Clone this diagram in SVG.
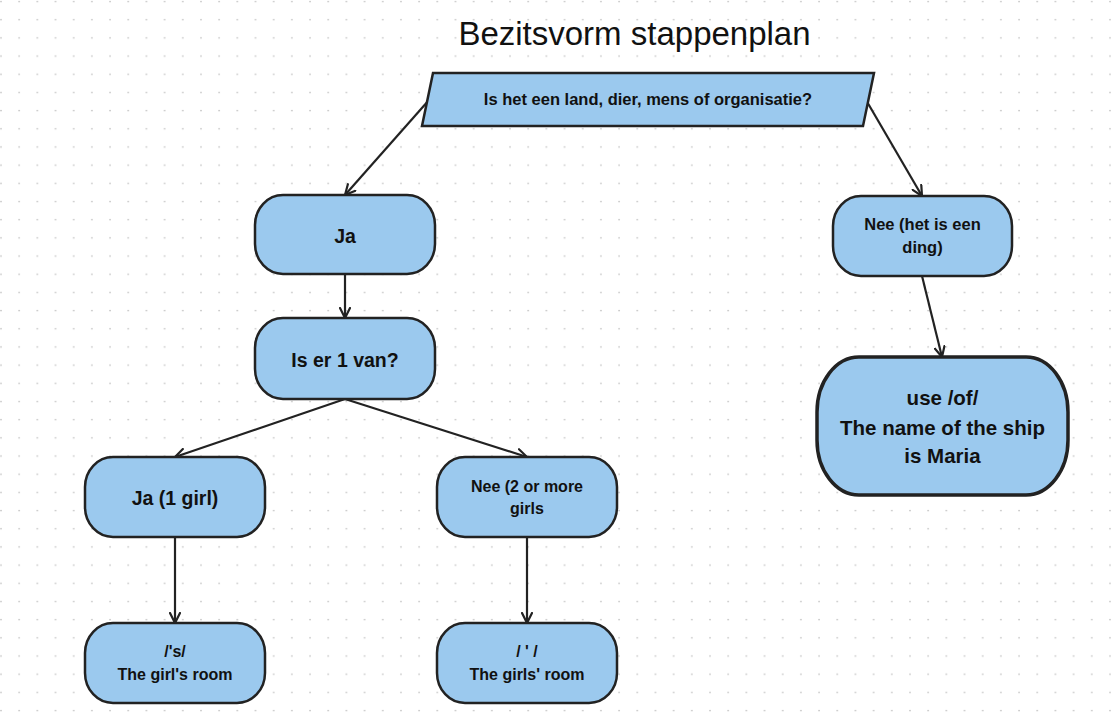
<svg xmlns="http://www.w3.org/2000/svg" width="1118" height="721" viewBox="0 0 1118 721">
<style>
.node{fill:#9BC9EE;stroke:#222;stroke-width:2.5}
.big{stroke-width:3.5}
.t{font-family:"Liberation Sans",Arial,sans-serif;font-weight:bold;fill:#111;text-anchor:middle}
.conn{stroke:#222;stroke-width:2.2;fill:none;marker-end:url(#arr)}
</style>
<defs>
<pattern id="dots" width="18.18" height="18.18" patternUnits="userSpaceOnUse">
<circle cx="1" cy="1.5" r="0.9" fill="#c6c6c6"/>
</pattern>
<marker id="arr" viewBox="0 0 12 12" refX="11" refY="6" markerWidth="12" markerHeight="12" markerUnits="userSpaceOnUse" orient="auto">
<path d="M1,1 L11,6 L1,11" fill="none" stroke="#222" stroke-width="2.2" stroke-linecap="round" stroke-linejoin="round"/>
</marker>
</defs>
<rect width="1118" height="721" fill="#fff"/>
<rect width="1118" height="721" fill="url(#dots)"/>
<text x="634.5" y="45" font-family="'Liberation Sans',Arial,sans-serif" font-size="33" fill="#111" text-anchor="middle">Bezitsvorm stappenplan</text>
<g id="connectors">
<line class="conn" x1="429" y1="100" x2="345" y2="195"/>
<line class="conn" x1="866" y1="100" x2="922" y2="196"/>
<line class="conn" x1="345" y1="274" x2="345" y2="318"/>
<line class="conn" x1="922" y1="276" x2="942" y2="357"/>
<line class="conn" x1="345" y1="399" x2="175" y2="457"/>
<line class="conn" x1="345" y1="399" x2="527" y2="457"/>
<line class="conn" x1="175" y1="537" x2="175" y2="623"/>
<line class="conn" x1="527" y1="537" x2="527" y2="623"/>
</g>
<g id="question">
<polygon class="node" points="433,73 874,73 863,126 422,126"/>
<text class="t" x="648" y="105" font-size="16.5">Is het een land, dier, mens of organisatie?</text>
</g>
<g id="ja">
<rect class="node" x="255" y="195" width="180" height="79" rx="28" ry="30"/>
<text class="t" x="345" y="242.5" font-size="19.5">Ja</text>
</g>
<g id="iser1van">
<rect class="node" x="255" y="318" width="180" height="81" rx="28" ry="30"/>
<text class="t" x="345" y="366.5" font-size="19.5">Is er 1 van?</text>
</g>
<g id="nee-ding">
<rect class="node" x="833" y="196" width="179" height="80" rx="28" ry="30"/>
<text class="t" x="922.5" y="230" font-size="16.5">Nee (het is een</text>
<text class="t" x="922.5" y="252.5" font-size="16.5">ding)</text>
</g>
<g id="use-of">
<rect class="node big" x="817" y="357" width="251" height="138" rx="42" ry="55"/>
<text class="t" x="942.5" y="405" font-size="20.5">use /of/</text>
<text class="t" x="942.5" y="434.5" font-size="20.5">The name of the ship</text>
<text class="t" x="942.5" y="462.5" font-size="20.5">is Maria</text>
</g>
<g id="ja-1-girl">
<rect class="node" x="85" y="457" width="180" height="80" rx="28" ry="30"/>
<text class="t" x="175" y="505" font-size="19.5">Ja (1 girl)</text>
</g>
<g id="nee-2-girls">
<rect class="node" x="437" y="457" width="180" height="80" rx="28" ry="30"/>
<text class="t" x="527" y="491.5" font-size="16">Nee (2 or more</text>
<text class="t" x="527" y="513.5" font-size="16">girls</text>
</g>
<g id="s-room">
<rect class="node" x="85" y="623" width="180" height="80" rx="28" ry="30"/>
<text class="t" x="175" y="657" font-size="16">/'s/</text>
<text class="t" x="175" y="680" font-size="16">The girl's room</text>
</g>
<g id="apos-room">
<rect class="node" x="437" y="623" width="180" height="80" rx="28" ry="30"/>
<text class="t" x="527" y="657" font-size="16">/ ' /</text>
<text class="t" x="527" y="680" font-size="16">The girls' room</text>
</g>
</svg>
